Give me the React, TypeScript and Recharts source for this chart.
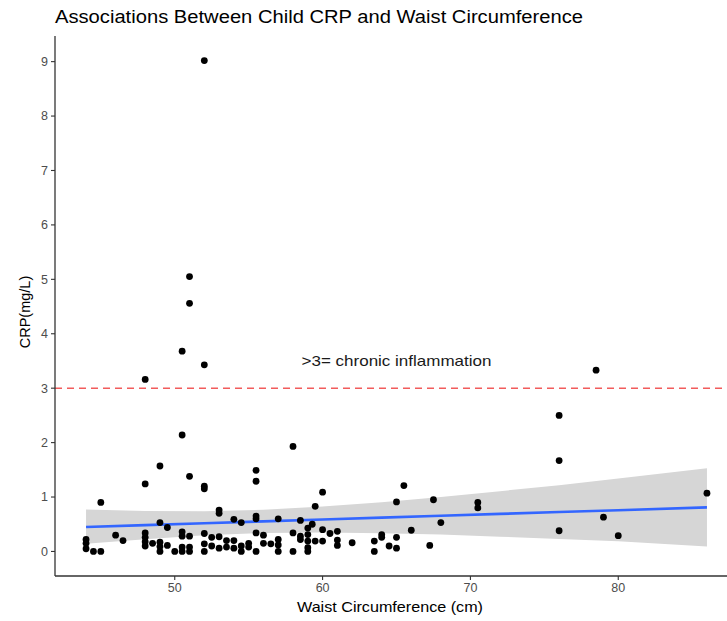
import React from 'react';
import {
  ComposedChart,
  XAxis,
  YAxis,
  Scatter,
  Line,
  Area,
  ReferenceLine,
  ReferenceDot,
} from 'recharts';

const waist: number[] = [
  44.0, 44.0, 44.0, 44.5, 45.0, 45.0, 46.0, 46.5,
  48.0, 48.0, 48.0, 48.0, 48.0, 48.0, 48.5,
  49.0, 49.0, 49.0, 49.0, 49.0, 49.5, 49.5, 50.0,
  50.5, 50.5, 50.5, 50.5, 50.5, 50.5,
  51.0, 51.0, 51.0, 51.0, 51.0, 51.0,
  52.0, 52.0, 52.0, 52.0, 52.0, 52.0, 52.0,
  52.5, 52.5, 53.0, 53.0, 53.0, 53.0, 53.5, 53.5,
  54.0, 54.0, 54.0, 54.5, 54.5, 54.5, 55.0, 55.0,
  55.5, 55.5, 55.5, 55.5, 55.5, 55.5, 56.0, 56.0, 56.5,
  57.0, 57.0, 57.0, 57.0, 58.0, 58.0, 58.0,
  58.5, 58.5, 58.5, 59.0, 59.0, 59.0, 59.0, 59.0, 59.3,
  59.5, 59.5, 60.0, 60.0, 60.0, 60.5, 61.0, 61.0, 61.0,
  62.0, 63.5, 63.5, 64.0, 64.0, 64.5, 65.0, 65.0, 65.0,
  65.5, 66.0, 67.25, 67.5, 68.0, 70.5, 70.5,
  76.0, 76.0, 76.0, 78.5, 79.0, 80.0, 86.0,
];
const crp: number[] = [
  0.22, 0.15, 0.05, 0, 0, 0.9, 0.3, 0.2,
  3.16, 1.24, 0.34, 0.26, 0.18, 0.1, 0.15,
  1.57, 0.53, 0.17, 0.09, 0, 0.44, 0.11, 0,
  3.68, 2.14, 0.36, 0.28, 0.08, 0,
  5.05, 4.56, 1.38, 0.28, 0.08, 0,
  9.02, 3.43, 1.2, 1.15, 0.33, 0.14, 0,
  0.26, 0.1, 0.76, 0.7, 0.27, 0.06, 0.2, 0.08,
  0.59, 0.2, 0.06, 0.53, 0.1, 0, 0.15, 0.08,
  1.49, 1.29, 0.65, 0.6, 0.34, 0, 0.3, 0.15, 0.14,
  0.6, 0.22, 0.12, 0, 1.93, 0.34, 0,
  0.57, 0.28, 0.22, 0.43, 0.31, 0.19, 0.07, 0, 0.5,
  0.83, 0.19, 1.09, 0.4, 0.19, 0.33, 0.37, 0.21, 0.11,
  0.16, 0.19, 0, 0.31, 0.26, 0.1, 0.91, 0.26, 0.06,
  1.21, 0.39, 0.11, 0.95, 0.53, 0.9, 0.8,
  2.5, 1.67, 0.38, 3.33, 0.63, 0.29, 1.07,
];

// Fitted line and confidence band, read at a few x positions
const bandX: number[] = [44, 48, 52, 56, 60, 64, 68, 72, 76, 80, 86];
const fitY: number[] = [0.45, 0.484, 0.519, 0.553, 0.587, 0.621, 0.656, 0.69, 0.724, 0.758, 0.81];
const bandLow: number[] = [0.14, 0.225, 0.298, 0.34, 0.35, 0.336, 0.31, 0.272, 0.231, 0.187, 0.09];
const bandHigh: number[] = [0.77, 0.743, 0.74, 0.766, 0.824, 0.906, 1.0, 1.108, 1.217, 1.34, 1.53];

const xTicks: number[] = [50, 60, 70, 80];
const yTicks: number[] = [0, 1, 2, 3, 4, 5, 6, 7, 8, 9];

const title = 'Associations Between Child CRP and Waist Circumference';
const xTitle = 'Waist Circumference (cm)';
const yTitle = 'CRP(mg/L)';
const note = '>3= chronic inflammation';

const points = waist.map((x, i) => ({ x, y: crp[i] }));
const band = bandX.map((x, i) => ({ x, fit: fitY[i], band: [bandLow[i], bandHigh[i]] }));

const FONT = '"Liberation Sans", Arial, Helvetica, sans-serif';

const Dot = (props: any) => {
  const { cx, cy } = props;
  if (cx == null || cy == null) return null;
  return <circle cx={cx} cy={cy} r={3.4} fill="#000" />;
};

const NoteLabel = (props: any) => {
  const vb = props.viewBox || {};
  const cx = (vb.x ?? 0) + (vb.width ?? 0) / 2;
  const cy = (vb.y ?? 0) + (vb.height ?? 0) / 2;
  return (
    <text
      x={cx}
      y={cy}
      dy="0.35em"
      textAnchor="middle"
      fontSize={14.5}
      fill="#1a1a1a"
      fontFamily={FONT}
      textLength={190}
      lengthAdjust="spacingAndGlyphs"
    >
      {note}
    </text>
  );
};

export default function App() {
  return (
    <div
      style={{
        position: 'fixed',
        left: 0,
        top: 0,
        width: 727,
        height: 621,
        overflow: 'hidden',
        background: '#fff',
        fontFamily: FONT,
      }}
    >
      <ComposedChart
        width={760}
        height={621}
        data={band}
        margin={{ top: 36, right: 22, bottom: 0, left: 0 }}
      >
        <XAxis
          dataKey="x"
          type="number"
          domain={[41.9, 88.1]}
          allowDataOverflow
          ticks={xTicks}
          height={45}
          tickSize={4}
          tickMargin={3}
          axisLine={{ stroke: '#333', strokeWidth: 1.3 }}
          tickLine={{ stroke: '#333', strokeWidth: 1.1 }}
          tick={{ fill: '#4d4d4d', fontSize: 12.5, fontFamily: FONT }}
        />
        <YAxis
          type="number"
          domain={[-0.451, 9.471]}
          allowDataOverflow
          ticks={yTicks}
          width={55}
          tickSize={4}
          tickMargin={3}
          axisLine={{ stroke: '#333', strokeWidth: 1.3 }}
          tickLine={{ stroke: '#333', strokeWidth: 1.1 }}
          tick={{ fill: '#4d4d4d', fontSize: 12.5, fontFamily: FONT }}
        />
        <Area
          dataKey="band"
          type="linear"
          stroke="none"
          fill="#d6d6d6"
          fillOpacity={1}
          isAnimationActive={false}
          activeDot={false}
        />
        <Line
          dataKey="fit"
          type="linear"
          stroke="#3366FF"
          strokeWidth={2.6}
          dot={false}
          activeDot={false}
          isAnimationActive={false}
        />
        <ReferenceLine y={3} stroke="#f25c5c" strokeWidth={1.6} strokeDasharray="7 5" />
        <Scatter data={points} dataKey="y" shape={<Dot />} isAnimationActive={false} />
        <ReferenceDot
          x={65}
          y={3.5}
          r={0}
          fill="none"
          stroke="none"
          label={<NoteLabel />}
        />
      </ComposedChart>
      <svg
        width={727}
        height={621}
        style={{ position: 'absolute', left: 0, top: 0, pointerEvents: 'none' }}
      >
        <text
          x={55}
          y={23}
          fontSize={17.5}
          fill="#000"
          fontFamily={FONT}
          textLength={528}
          lengthAdjust="spacingAndGlyphs"
        >
          {title}
        </text>
        <text
          x={390}
          y={612}
          fontSize={14.5}
          fill="#000"
          textAnchor="middle"
          fontFamily={FONT}
          textLength={186}
          lengthAdjust="spacingAndGlyphs"
        >
          {xTitle}
        </text>
        <text
          x={30}
          y={312}
          fontSize={14.5}
          fill="#000"
          textAnchor="middle"
          fontFamily={FONT}
          transform="rotate(-90 30 312)"
        >
          {yTitle}
        </text>
      </svg>
    </div>
  );
}
